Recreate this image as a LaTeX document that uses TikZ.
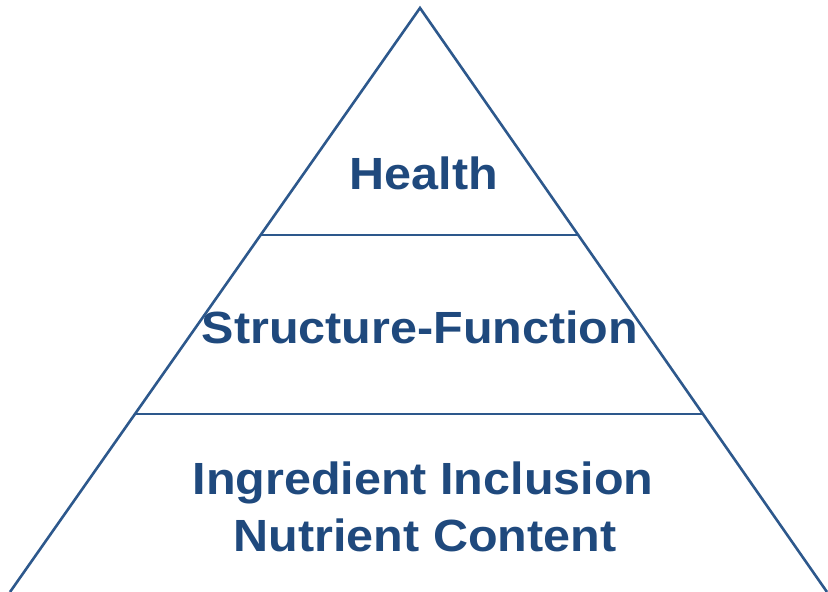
\documentclass[tikz,border=0pt]{standalone}
\usepackage{fontspec}
\setmainfont{Liberation Sans}
\usetikzlibrary{calc}
\definecolor{txtblue}{RGB}{31,73,125}
\definecolor{lineblue}{RGB}{45,88,140}
\begin{document}
\begin{tikzpicture}[x=1pt,y=-1pt,
  edge/.style={draw=lineblue,line width=2.6pt,line join=miter},
  label/.style={text=txtblue,font=\fontsize{48.5}{58}\selectfont\bfseries,anchor=base,inner sep=0pt,yscale=0.93,transform shape}]
\useasboundingbox (0,0) rectangle (828,592);
\coordinate (apex) at (420,8);
\coordinate (bl) at (10,592);
\coordinate (br) at (827,592);
\coordinate (l1) at ($(apex)!0.3887!(bl)$);
\coordinate (r1) at ($(apex)!0.3887!(br)$);
\coordinate (l2) at ($(apex)!0.6952!(bl)$);
\coordinate (r2) at ($(apex)!0.6952!(br)$);
\draw[edge] (bl) -- (apex) -- (br);
\draw[edge] (l1) -- (r1);
\draw[edge] (l2) -- (r2);
\node[label] (health) at (424,189) {Health};
\node[label] (sf) at (420,343) {Structure-Function};
\node[label] (ing) at (423,494) {Ingredient Inclusion};
\node[label] (nut) at (425,551) {Nutrient Content};
\end{tikzpicture}
\end{document}
